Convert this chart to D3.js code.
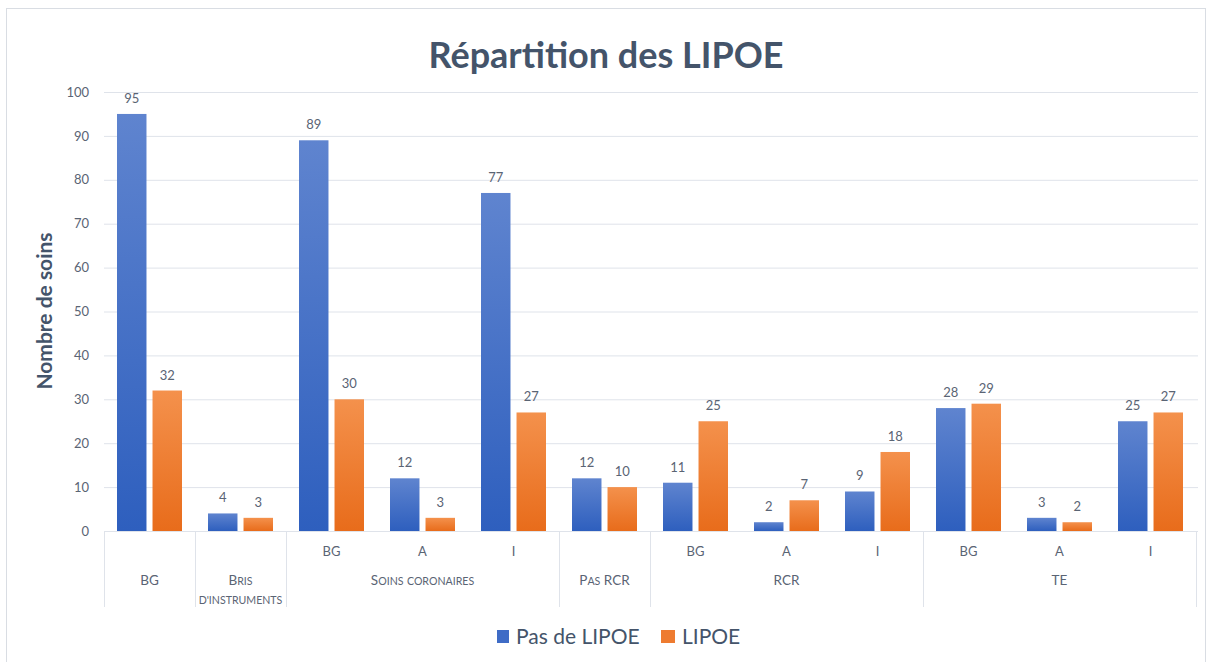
<!DOCTYPE html>
<html>
<head>
<meta charset="utf-8">
<script src="https://cdn.jsdelivr.net/npm/d3@7.9.0/dist/d3.min.js"></script>
<style>
  body { margin: 0; background: #fff; }
  svg { font-family: Lato, "Open Sans", sans-serif; }
</style>
</head>
<body>
<div id="chart"></div>
<script>
// data
const groups = ['BG', "Bris|d'instruments", 'Soins coronaires', 'Soins coronaires', 'Soins coronaires',
  'Pas RCR', 'RCR', 'RCR', 'RCR', 'TE', 'TE', 'TE'];
const subLabels = ['', '', 'BG', 'A', 'I', '', 'BG', 'A', 'I', 'BG', 'A', 'I'];
const pasLipoe = [95, 4, 89, 12, 77, 12, 11, 2, 9, 28, 3, 25];
const lipoe = [32, 3, 30, 3, 27, 10, 25, 7, 18, 29, 2, 27];
const seriesNames = ['Pas de LIPOE', 'LIPOE'];
const yTicks = [0, 10, 20, 30, 40, 50, 60, 70, 80, 90, 100];

const W = 1212, H = 662;
const plot = { left: 104, right: 1196, top: 92, bottom: 531 };
const textCol = '#5a6474';
const titleCol = '#44546a';

const svg = d3.select('#chart').append('svg')
  .attr('width', W).attr('height', H);

// gradients
const defs = svg.append('defs');
function grad(id, top, bottom) {
  const g = defs.append('linearGradient').attr('id', id)
    .attr('x1', 0).attr('y1', 0).attr('x2', 0).attr('y2', 1);
  g.append('stop').attr('offset', '0%').attr('stop-color', top);
  g.append('stop').attr('offset', '100%').attr('stop-color', bottom);
}
grad('gBlue', '#5f84cf', '#2e5fbe');
grad('gOrange', '#f4914c', '#e86c1b');
const fills = ['url(#gBlue)', 'url(#gOrange)'];
const legendFills = ['#3f6cc6', '#ee7b30'];

// chart border
svg.append('rect')
  .attr('x', 6.5).attr('y', 8.5).attr('width', 1199).attr('height', 660)
  .attr('fill', 'none').attr('stroke', '#d9dde3');

// scales
const idx = d3.range(groups.length);
const x0 = d3.scaleBand().domain(idx).range([plot.left, plot.right]).padding(0);
const x1 = d3.scaleBand().domain([0, 1])
  .range([13, x0.bandwidth() - 13]).paddingInner(0.17);
const y = d3.scaleLinear().domain([0, 100]).range([plot.bottom, plot.top]);

// gridlines
svg.append('g')
  .selectAll('line')
  .data(yTicks)
  .join('line')
  .attr('x1', plot.left).attr('x2', plot.right + 2)
  .attr('y1', d => y(d) + 0.5).attr('y2', d => y(d) + 0.5)
  .attr('stroke', '#dfe3ea').attr('stroke-width', 1);

// y axis
const yAxis = svg.append('g')
  .attr('transform', `translate(${plot.left},0)`)
  .call(d3.axisLeft(y).tickValues(yTicks).tickSize(0).tickPadding(15));
yAxis.select('.domain').remove();
yAxis.selectAll('text')
  .attr('fill', textCol)
  .style('font-size', '13px')
  .style('font-family', 'Lato, sans-serif');

// bars
const rows = idx.map(i => ({ i, vals: [pasLipoe[i], lipoe[i]] }));
const cat = svg.append('g').selectAll('g')
  .data(rows)
  .join('g')
  .attr('transform', d => `translate(${x0(d.i)},0)`);

cat.selectAll('rect')
  .data(d => d.vals.map((v, s) => ({ v, s })))
  .join('rect')
  .attr('x', d => x1(d.s))
  .attr('y', d => y(d.v))
  .attr('width', x1.bandwidth())
  .attr('height', d => y(0) - y(d.v))
  .attr('fill', d => fills[d.s]);

cat.selectAll('text')
  .data(d => d.vals.map((v, s) => ({ v, s })))
  .join('text')
  .attr('x', d => x1(d.s) + x1.bandwidth() / 2)
  .attr('y', d => y(d.v) - 11)
  .attr('text-anchor', 'middle')
  .attr('fill', textCol)
  .style('font-size', '13px')
  .text(d => d.v);

// category axis: inner labels
svg.append('g').selectAll('text')
  .data(idx.filter(i => subLabels[i]))
  .join('text')
  .attr('x', i => x0(i) + x0.bandwidth() / 2)
  .attr('y', 556)
  .attr('text-anchor', 'middle')
  .attr('fill', textCol)
  .style('font-size', '13px')
  .text(i => subLabels[i]);

// outer groups
const outer = [];
groups.forEach((g, i) => {
  const last = outer[outer.length - 1];
  if (last && last.name === g) last.end = i;
  else outer.push({ name: g, start: i, end: i });
});

const sepX = [x0(0)].concat(outer.map(o => x0(o.end) + x0.bandwidth()));
svg.append('g').selectAll('line')
  .data(sepX)
  .join('line')
  .attr('x1', d => Math.round(d) + 0.5).attr('x2', d => Math.round(d) + 0.5)
  .attr('y1', plot.bottom).attr('y2', 607)
  .attr('stroke', '#dfe3ea');

// small caps done by hand: capitals at full size, lowercase as smaller capitals
function smallCaps(t, str, x, dy) {
  const runs = str.match(/[a-zàâçéèêëîïôûùüÿœ']+|[^a-zàâçéèêëîïôûùüÿœ']+/g) || [];
  runs.forEach((r, k) => {
    const lower = /[a-zàâçéèêëîïôûùüÿœ']/.test(r);
    const ts = t.append('tspan')
      .style('font-size', lower ? '10.6px' : '13.5px')
      .text(lower ? r.toUpperCase() : r);
    if (k === 0) ts.attr('x', x).attr('dy', dy);
  });
}

const outerText = svg.append('g').selectAll('text')
  .data(outer)
  .join('text')
  .attr('x', o => (x0(o.start) + x0(o.end) + x0.bandwidth()) / 2)
  .attr('y', 585)
  .attr('text-anchor', 'middle')
  .attr('fill', textCol);
outerText.each(function(o) {
  const cx = (x0(o.start) + x0(o.end) + x0.bandwidth()) / 2;
  const t = d3.select(this);
  o.name.split('|').forEach((p, k) => smallCaps(t, p, cx, k === 0 ? 0 : 19));
});

// baseline
svg.append('line')
  .attr('x1', plot.left).attr('x2', plot.right + 2)
  .attr('y1', plot.bottom + 0.5).attr('y2', plot.bottom + 0.5)
  .attr('stroke', '#dfe3ea');

// title
svg.append('text')
  .attr('x', 606).attr('y', 68)
  .attr('text-anchor', 'middle')
  .attr('fill', titleCol)
  .style('font-size', '36px')
  .style('font-weight', 'bold')
  .text('Répartition des LIPOE');

// y label
svg.append('text')
  .attr('transform', 'translate(52,311) rotate(-90)')
  .attr('text-anchor', 'middle')
  .attr('fill', titleCol)
  .style('font-size', '21px')
  .style('font-weight', 'bold')
  .text('Nombre de soins');

// legend
const legend = svg.append('g');
const legendItems = [{ x: 497, w: 12 }, { x: 661, w: 14 }];
seriesNames.forEach((name, s) => {
  const it = legendItems[s];
  legend.append('rect')
    .attr('x', it.x).attr('y', 630).attr('width', it.w).attr('height', 13)
    .attr('fill', legendFills[s]);
  legend.append('text')
    .attr('x', it.x + it.w + 7).attr('y', 644)
    .attr('fill', titleCol)
    .style('font-size', '21px')
    .text(name);
});
</script>
</body>
</html>
